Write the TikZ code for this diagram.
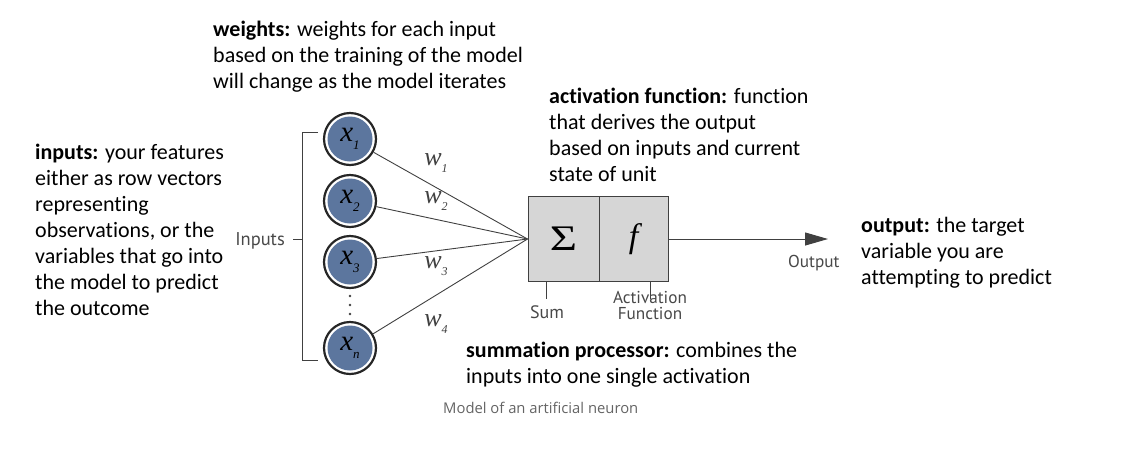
\documentclass[tikz,border=0pt]{standalone}
\usepackage{graphicx}
\usepackage{fontspec}
\setmainfont{Carlito}[RawFeature={-liga;-calt;-clig;-dlig}]
\newfontfamily\lblfont{PT Sans}
\newfontfamily\serfont{Liberation Serif}
\newfontfamily\capfont{Open Sans}
\usetikzlibrary{arrows.meta}
\definecolor{nblue}{RGB}{92,118,158}
\definecolor{boxgray}{RGB}{214,214,214}
\definecolor{lblgray}{RGB}{72,72,72}
\definecolor{capgray}{RGB}{100,100,100}
\definecolor{linegray}{RGB}{64,64,64}
\newcommand{\xin}[1]{{\serfont\itshape\fontsize{29}{29}\selectfont x}\raisebox{-8pt}{\serfont\itshape\fontsize{13}{13}\selectfont #1}}
\newcommand{\win}[1]{{\serfont\itshape\fontsize{26}{26}\selectfont w}\raisebox{-7pt}{\serfont\itshape\fontsize{12}{12}\selectfont #1}}
\begin{document}
\begin{tikzpicture}[x=1pt,y=-1pt,
  note/.style={anchor=north west, inner sep=0pt, align=left, font=\fontsize{22}{26}\selectfont, text=black},
  neuron/.style={circle, draw=black!85, line width=2.2pt, fill=white, minimum size=52pt, inner sep=0pt,
    path picture={\fill[nblue] (path picture bounding box.center) circle (22.5pt);}},
  wline/.style={draw=linegray, line width=0.9pt},
  fbox/.style={rectangle, draw=linegray, line width=1pt, fill=boxgray, minimum height=85pt, inner sep=0pt},
  lbl/.style={inner sep=0pt, text=lblgray, align=center},
  wlbl/.style={inner sep=0pt, text=linegray},
  thin/.style={draw=linegray, line width=0.8pt}
]
\useasboundingbox (0,0) rectangle (1129,456);

% annotations
\node[note] (tw) at (213,18.3) {\strut\textbf{weights:} weights for each input\\based on the training of the model\\will change as the model iterates};
\node[note] (ti) at (35,140.8) {\strut\textbf{inputs:} your features\\either as row vectors\\representing\\observations, or the\\variables that go into\\the model to predict\\the outcome};
\node[note] (ta) at (549,84.8) {\strut\textbf{activation function:} function\\that derives the output\\based on inputs and current\\state of unit};
\node[note] (to) at (861,213.8) {\strut\textbf{output:} the target\\variable you are\\attempting to predict};
\node[note] (ts) at (466,338.8) {\strut\textbf{summation processor:} combines the\\inputs into one single activation};
\node[anchor=base west, inner sep=0pt, text=capgray, font=\capfont\fontsize{14.8}{16}\selectfont] (cap) at (443,413) {Model of an artificial neuron};

% inputs
\node[neuron] (x1) at (350,139) {\xin{1}};
\node[neuron] (x2) at (350,201) {\xin{2}};
\node[neuron] (x3) at (350,262) {\xin{3}};
\node[neuron] (xn) at (350,348) {\xin{n}};
\foreach \yy in {296,305,314} \fill[linegray] (350,\yy) circle (1.3pt);

% bracket
\draw[thin] (318,132) -- (302,132) -- (302,360) -- (318,360);
\coordinate (brk) at (302,239);
\draw[thin] (brk) -- ++(-9,0);
\node[lbl, anchor=base east, font=\lblfont\fontsize{18.5}{18}\selectfont] (inp) at (285,245) {Inputs};

% unit
\node[fbox, minimum width=71pt] (sum) at (563.5,239) {\serfont\fontsize{36}{36}\selectfont\raisebox{-2pt}{\scalebox{1.3}[1]{Σ}}};
\node[fbox, minimum width=69pt] (act) at (633.5,239) {\serfont\itshape\fontsize{34}{34}\selectfont f};
\coordinate (c) at (sum.west);

\draw[wline] (x1) -- (c);
\draw[wline] (x2) -- (c);
\draw[wline] (x3) -- (c);
\draw[wline] (xn) -- (c);

\node[wlbl] (w1) at (436,163) {\win{1}};
\node[wlbl] (w2) at (436,201) {\win{2}};
\node[wlbl] (w3) at (436,266) {\win{3}};
\node[wlbl] (w4) at (436,324) {\win{4}};

% output
\coordinate (out) at (828,239);
\draw[draw=linegray, line width=1pt, -{Triangle[length=23pt,width=13pt]}] (act.east) -- (out);
\node[lbl, anchor=base west, font=\lblfont\fontsize{17.2}{17}\selectfont] (outl) at (788,267) {Output};

% ticks
\draw[thin] ([xshift=19pt]sum.south west) -- ++(0,17) coordinate (st);
\draw[thin] ([xshift=16.5pt]act.south) -- ++(0,17) coordinate (at);
\node[lbl, anchor=base, font=\lblfont\fontsize{18}{18}\selectfont] (suml) at (547,318) {Sum};
\node[lbl, anchor=base, font=\lblfont\fontsize{17.2}{15.5}\selectfont] (actl) at (650,319) {Activation\\Function};
\end{tikzpicture}
\end{document}
